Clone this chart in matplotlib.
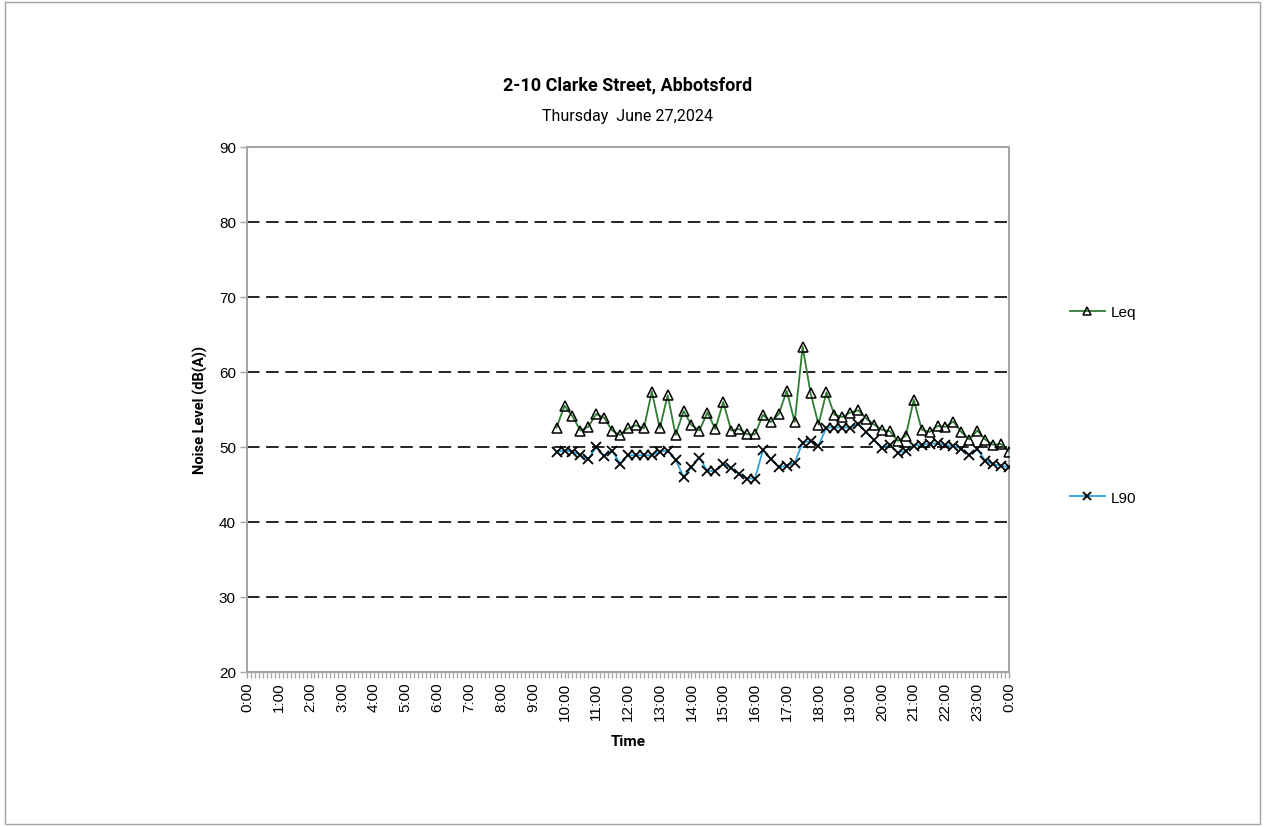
import matplotlib
matplotlib.use("Agg")
import matplotlib.pyplot as plt
import matplotlib.patches as patches
import numpy as np
from matplotlib.lines import Line2D

# 15-minute samples, 9:45 through midnight
start_hour = 9.75
step_hours = 0.25

leq = [52.6, 55.5, 54.1, 52.2, 52.7, 54.4, 53.9, 52.2, 51.6, 52.5,
       52.9, 52.5, 57.4, 52.5, 56.9, 51.6, 54.8, 52.9, 52.2, 54.6,
       52.4, 56.0, 52.2, 52.4, 51.7, 51.7, 54.3, 53.3, 54.4, 57.5,
       53.3, 63.4, 57.2, 53.0, 57.3, 54.3, 54.0, 54.6, 54.9, 53.8,
       53.0, 52.3, 52.1, 50.8, 51.5, 56.3, 52.3, 52.0, 52.8, 52.7,
       53.4, 52.0, 51.0, 52.2, 51.0, 50.3, 50.4, 49.4]

l90 = [49.4, 49.5, 49.4, 48.9, 48.4, 50.0, 48.8, 49.5, 47.8, 48.9,
       48.9, 48.9, 48.9, 49.4, 49.5, 48.3, 46.0, 47.3, 48.6, 46.8,
       46.8, 47.8, 47.2, 46.4, 45.8, 45.8, 49.6, 48.4, 47.3, 47.5,
       47.9, 50.6, 50.8, 50.2, 52.6, 52.6, 52.6, 52.6, 53.1, 52.0,
       50.9, 49.9, 50.3, 49.2, 49.5, 50.2, 50.3, 50.4, 50.5, 50.3,
       50.1, 49.8, 48.9, 49.7, 48.2, 47.7, 47.5, 47.3]

hour_labels = [f"{h % 24}:00" for h in range(25)]
y_ticks = [20, 30, 40, 50, 60, 70, 80, 90]

title = "2-10 Clarke Street, Abbotsford"
subtitle = "Thursday  June 27,2024"

hours = start_hour + step_hours * np.arange(len(leq))

label_font = ["Roboto", "DejaVu Sans"]
tick_font = ["Liberation Sans", "DejaVu Sans"]
axis_grey = "#A6A6A6"
leq_green = "#2E7D32"
l90_blue = "#2AA5E0"

fig = plt.figure(figsize=(12.65, 8.28), dpi=100)
ax = fig.add_axes([247 / 1265, 1 - 673 / 828, (1009 - 247) / 1265, (673 - 148) / 828])

# outer chart border
fig.patches.append(patches.Rectangle((5 / 1265, 3 / 828), 1255 / 1265, 822 / 828,
                                     transform=fig.transFigure, fill=False,
                                     edgecolor="#A0A0A0", linewidth=1.0))

for y in y_ticks[1:]:
    ax.axhline(y, color="black", linewidth=1.2, linestyle=(0, (7.5, 4)), zorder=1)

ax.plot(hours, leq, color=leq_green, linewidth=1.3, marker="^", markersize=7,
        markerfacecolor="none", markeredgecolor="black", markeredgewidth=1.1,
        zorder=3, label="Leq")
ax.plot(hours, l90, color=l90_blue, linewidth=1.3, marker="x", markersize=6.5,
        markeredgecolor="black", markeredgewidth=1.3, zorder=3, label="L90")

ax.set_xlim(0, 24)
ax.set_ylim(20, 90)
ax.set_xticks(range(25))
ax.set_xticklabels(hour_labels, rotation=90, fontsize=11, family=tick_font)
ax.set_xticks(np.arange(0, 24.01, 0.125), minor=True)
ax.set_yticks(y_ticks)
ax.set_yticklabels([str(v) for v in y_ticks], fontsize=11, family=tick_font)

ax.tick_params(axis="x", which="both", direction="out", color=axis_grey, length=4, width=1, pad=3)
ax.tick_params(axis="y", which="both", direction="out", color=axis_grey, length=5, width=1, pad=3)
for spine in ax.spines.values():
    spine.set_color(axis_grey)
    spine.set_linewidth(1.5)

ax.set_xlabel("Time", fontsize=11, fontweight="bold", family=label_font, labelpad=10)
ax.set_ylabel("Noise Level (dB(A))", fontsize=10.5, fontweight="bold", family=label_font, labelpad=8)

fig.text(628 / 1265, 1 - 85 / 828, title, ha="center", va="center",
         fontsize=13, fontweight="bold", family=label_font)
fig.text(628 / 1265, 1 - 117 / 828, subtitle, ha="center", va="center",
         fontsize=11.5, family=label_font)

handles = [Line2D([], [], color=leq_green, linewidth=1.3, marker="^", markersize=6,
                  markerfacecolor="none", markeredgecolor="black", markeredgewidth=1.1),
           Line2D([], [], color=l90_blue, linewidth=1.3, marker="x", markersize=5.5,
                  markeredgecolor="black", markeredgewidth=1.3)]
fig.legend(handles, ["Leq", "L90"], loc="center left",
           bbox_to_anchor=(1056 / 1265, 1 - 406 / 828), frameon=False,
           labelspacing=11.2, handlelength=2.3, handletextpad=0.4,
           prop={"family": tick_font, "size": 11})

fig.savefig("out.png", dpi=100)
